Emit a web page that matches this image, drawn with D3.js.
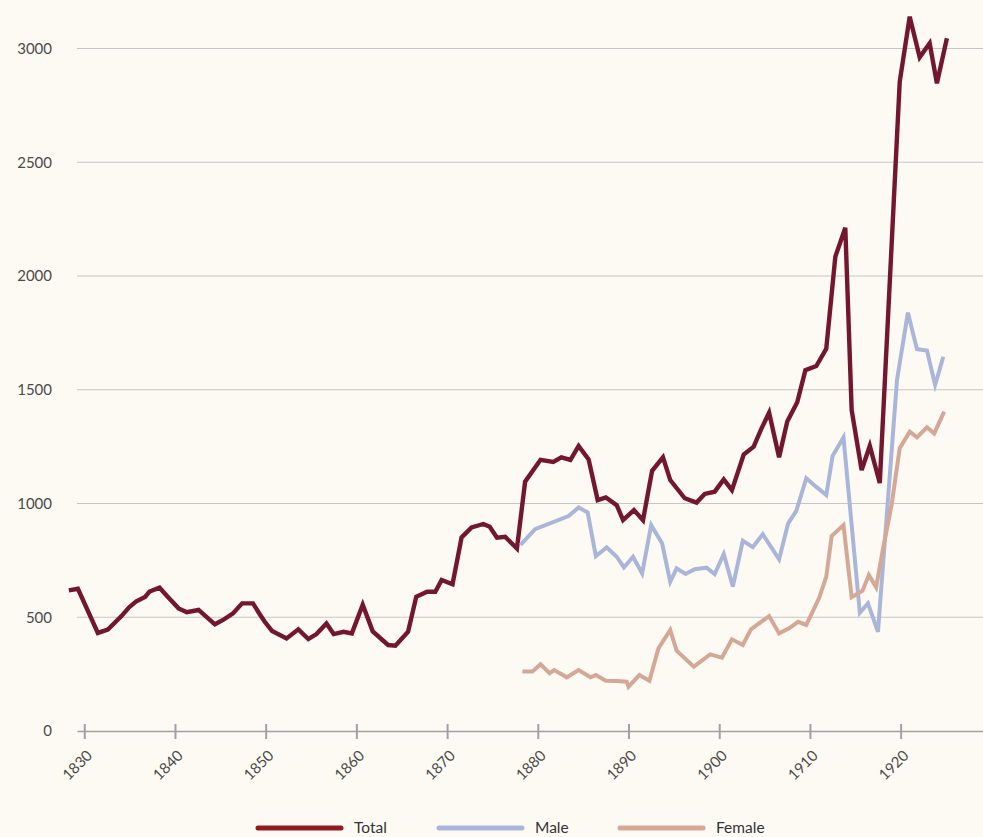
<!DOCTYPE html>
<html>
<head>
<meta charset="utf-8">
<script src="https://cdn.jsdelivr.net/npm/d3@7"></script>
<style>
  html, body { margin: 0; padding: 0; background: #fdfaf3; }
  svg { display: block; font-family: Lato, "Open Sans", sans-serif; }
</style>
</head>
<body>
<svg id="chart" width="983" height="837"></svg>
<script>
// Annual counts, positioned at the (fractional) year of each observation
const totalYears = [1828.3, 1829.3, 1831.5, 1832.6, 1834.1, 1834.9, 1835.7, 1836.7, 1837.2, 1838.3,
  1839.2, 1840.4, 1841.3, 1842.6, 1844.4, 1845.3, 1846.4, 1847.4, 1848.6, 1849.4,
  1849.9, 1850.7, 1852.3, 1853.6, 1854.7, 1855.6, 1856.7, 1857.5, 1858.6, 1859.5,
  1860.7, 1861.8, 1863.5, 1864.3, 1865.7, 1866.6, 1867.8, 1868.7, 1869.4, 1870.6,
  1871.6, 1872.7, 1874.0, 1874.7, 1875.5, 1876.4, 1877.7, 1878.6, 1880.3, 1881.7,
  1882.6, 1883.6, 1884.5, 1885.6, 1886.6, 1887.5, 1888.7, 1889.4, 1890.6, 1891.6,
  1892.6, 1893.8, 1894.6, 1896.2, 1897.5, 1898.4, 1899.5, 1900.5, 1901.4, 1902.7,
  1903.8, 1904.6, 1905.5, 1906.6, 1907.5, 1908.6, 1909.5, 1910.7, 1911.8, 1912.8,
  1913.9, 1914.6, 1915.7, 1916.6, 1917.7, 1919.9, 1921.0, 1922.1, 1923.2, 1924.0, 1925.1];
const totalValues = [618, 625, 431, 446, 505, 542, 569, 589, 613, 630,
  590, 539, 522, 532, 469, 488, 517, 561, 561, 510,
  480, 440, 407, 447, 404, 426, 473, 426, 436, 429,
  555, 438, 378, 375, 436, 590, 612, 612, 664, 645,
  851, 895, 910, 898, 850, 854, 802, 1096, 1192, 1183,
  1203, 1192, 1253, 1194, 1015, 1027, 993, 927, 971, 927,
  1144, 1203, 1103, 1023, 1004, 1042, 1052, 1106, 1059, 1215,
  1250, 1325, 1399, 1203, 1360, 1445, 1586, 1604, 1680, 2085,
  2212, 1411, 1147, 1253, 1090, 2854, 3140, 2961, 3023, 2847, 3045];

const maleYears = [1878.1, 1879.7, 1883.4, 1884.5, 1885.5, 1886.4, 1887.6, 1888.7, 1889.5, 1890.5,
  1891.5, 1892.5, 1893.7, 1894.6, 1895.3, 1896.3, 1897.3, 1898.6, 1899.5, 1900.5,
  1901.5, 1902.6, 1903.7, 1904.8, 1906.6, 1907.6, 1908.5, 1909.6, 1910.7, 1911.8,
  1912.5, 1913.7, 1915.5, 1916.4, 1917.5, 1919.6, 1920.8, 1921.8, 1922.9, 1923.8, 1924.7];
const maleValues = [818, 887, 945, 983, 960, 769, 807, 766, 719, 766,
  693, 905, 825, 656, 715, 690, 711, 718, 690, 778,
  635, 836, 808, 865, 755, 913, 968, 1111, 1073, 1037,
  1209, 1291, 520, 561, 436, 1543, 1839, 1678, 1672, 1521, 1645];

const femaleYears = [1878.3, 1879.4, 1880.3, 1881.3, 1881.8, 1883.2, 1884.5, 1885.8, 1886.4, 1887.5,
  1888.7, 1889.8, 1890.0, 1891.2, 1892.3, 1893.3, 1894.6, 1895.3, 1897.2, 1899.0,
  1900.3, 1901.4, 1902.6, 1903.5, 1904.5, 1905.5, 1906.6, 1907.7, 1908.7, 1909.6,
  1911.0, 1911.8, 1912.4, 1913.7, 1914.6, 1915.8, 1916.5, 1917.3, 1918.1, 1919.0,
  1919.9, 1921.0, 1921.8, 1922.9, 1923.7, 1924.8];
const femaleValues = [261, 261, 293, 254, 268, 236, 268, 236, 246, 221,
  220, 217, 195, 246, 221, 363, 444, 353, 283, 337,
  322, 403, 378, 447, 476, 505, 429, 451, 480, 466,
  583, 678, 857, 905, 588, 617, 686, 632, 810, 993,
  1243, 1316, 1291, 1335, 1308, 1404];

const yTicks = [0, 500, 1000, 1500, 2000, 2500, 3000];
const xTicks = [1830, 1840, 1850, 1860, 1870, 1880, 1890, 1900, 1910, 1920];

const seriesNames = ["Total", "Male", "Female"];
const seriesColors = ["#731630", "#aab6d9", "#d5a797"];
const legendColors = ["#8f1a22", "#aab6d9", "#d5a797"];

const svg = d3.select("#chart");

const x = d3.scaleLinear().domain([1829.2, 1929.08]).range([77, 983]);
const y = d3.scaleLinear().domain([0, 3000]).range([731, 48.5]);

// horizontal gridlines
svg.append("g")
  .selectAll("line")
  .data(yTicks.filter(d => d > 0))
  .join("line")
  .attr("x1", 77).attr("x2", 983)
  .attr("y1", d => y(d)).attr("y2", d => y(d))
  .attr("stroke", "#c6c6c8").attr("stroke-width", 1);

// y labels
svg.append("g")
  .selectAll("text")
  .data(yTicks)
  .join("text")
  .attr("x", 52).attr("y", d => y(d))
  .attr("dy", "0.35em")
  .attr("text-anchor", "end")
  .attr("font-size", 15)
  .attr("fill", "#4a4a4a")
  .text(d => d);

// x axis
const xAxis = d3.axisBottom(x)
  .tickValues(xTicks)
  .tickSize(0)
  .tickFormat(d3.format("d"));
const gx = svg.append("g").attr("transform", `translate(0,${y(0)})`).call(xAxis);
gx.select(".domain").attr("stroke", "#9ea1a8").attr("stroke-width", 1.5);
gx.selectAll(".tick line").remove();
gx.selectAll(".tick").append("line")
  .attr("y1", -7).attr("y2", 8)
  .attr("stroke", "#9ea1a8").attr("stroke-width", 2);
gx.selectAll(".tick text")
  .attr("font-family", "Lato, 'Open Sans', sans-serif")
  .attr("font-size", 15)
  .attr("fill", "#4a4a4a")
  .attr("text-anchor", "end")
  .attr("y", 0).attr("dy", 0)
  .attr("transform", "translate(8.5,25.5) rotate(-45)");

// series lines
const line = d3.line().x(d => x(d[0])).y(d => y(d[1]));
const series = [
  d3.zip(totalYears, totalValues),
  d3.zip(maleYears, maleValues),
  d3.zip(femaleYears, femaleValues)
];
svg.append("g")
  .selectAll("path")
  .data(series)
  .join("path")
  .attr("d", line)
  .attr("fill", "none")
  .attr("stroke", (d, i) => seriesColors[i])
  .attr("stroke-width", (d, i) => i === 0 ? 4.4 : 4);

// legend
const legendX = [258, 439, 620];
const lg = svg.append("g").selectAll("g")
  .data(seriesNames)
  .join("g")
  .attr("transform", (d, i) => `translate(${legendX[i]},828)`);
lg.append("line")
  .attr("x1", 0).attr("x2", 83)
  .attr("stroke", (d, i) => legendColors[i])
  .attr("stroke-width", 5)
  .attr("stroke-linecap", "round");
lg.append("text")
  .attr("x", 96).attr("y", 5)
  .attr("font-size", 15.5)
  .attr("fill", "#333")
  .text(d => d);
</script>
</body>
</html>
